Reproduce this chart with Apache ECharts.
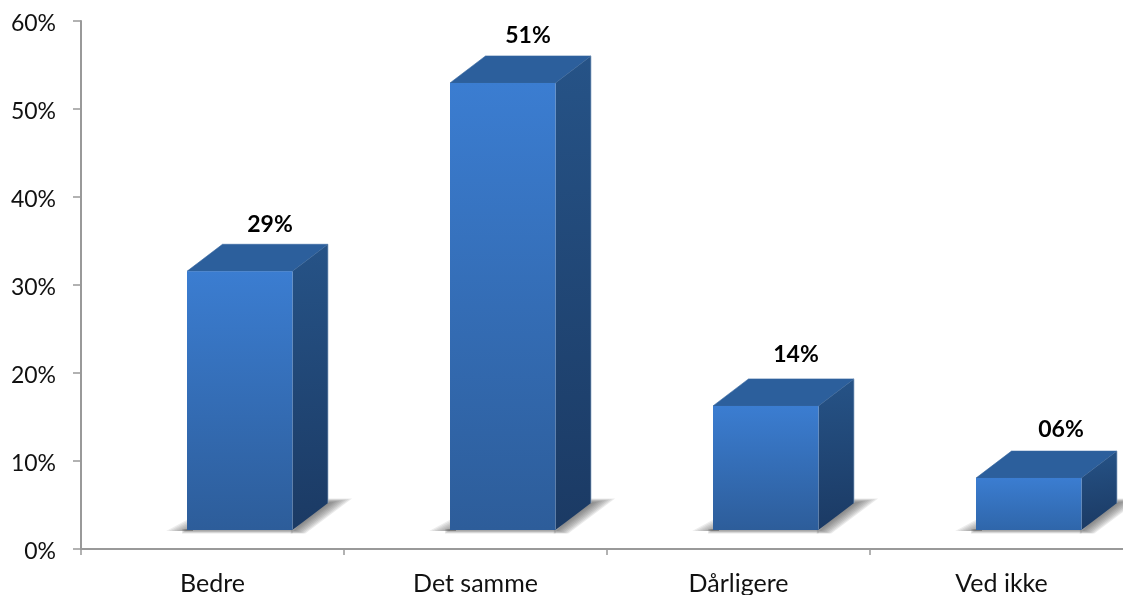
<!DOCTYPE html>
<html>
<head>
<meta charset="utf-8">
<style>html,body{margin:0;padding:0;background:#fff;overflow:hidden}#c{width:1123px;height:595px}</style>
<script src="https://cdn.jsdelivr.net/npm/echarts@6/dist/echarts.min.js"></script>
</head>
<body>
<div id="c"></div>
<script>
var categories = ['Bedre', 'Det samme', 'Dårligere', 'Ved ikke'];
var barHeights = [29.4, 50.8, 14.1, 5.9];
var valueLabels = ['29%', '51%', '14%', '06%'];

var FONT = 'Lato, "Open Sans", sans-serif';
var labelDx = [83, 78, 83, 85];
var labelDy = [-20, -20, -24, -22];

function lin(x0, y0, x1, y1, c0, c1) {
  return new echarts.graphic.LinearGradient(x0, y0, x1, y1, [
    {offset: 0, color: c0}, {offset: 1, color: c1}
  ]);
}
function renderBar(params, api) {
  var i = api.value(0);
  var top = api.coord([i, api.value(1)]);
  var base = api.coord([i, 0]);
  var w = 105.5, dx = 35.5, dy = 27;
  var L = base[0] - 25.5;
  var R = L + w;
  var B = base[1] - 19;
  var T = top[1] - 19;
  var items = [];
  var k;
  for (k = 8; k >= 1; k--) {
    items.push({type: 'polygon', silent: true,
      shape: {points: [[L - k * 2.6, B + 1], [L + 6, B - k * 1.7], [L + 6, B + 1]]},
      style: {fill: 'rgba(90,90,90,0.11)'}});
    items.push({type: 'polygon', silent: true,
      shape: {points: [
        [R - 2, B + k * 0.45],
        [R + dx - 2, B - dy - k * 0.55],
        [R + dx + k * 3, B - dy - k * 0.55],
        [R + k * 1.6, B + k * 0.45]
      ]},
      style: {fill: 'rgba(85,85,85,0.12)'}});
  }
  for (k = 5; k >= 1; k--) {
    items.push({type: 'rect', silent: true,
      shape: {x: L - k, y: B - 1, width: w + k, height: 1 + k * 0.7},
      style: {fill: 'rgba(100,100,100,0.16)'}});
  }
  items.push({type: 'polygon', silent: true,
    shape: {points: [[L, T], [L + dx, T - dy], [R + dx, T - dy], [R, T]]},
    style: {fill: '#2C5F9C', stroke: '#35679F', lineWidth: 0.6}});
  items.push({type: 'polygon', silent: true,
    shape: {points: [[R, T], [R + dx, T - dy], [R + dx, B - dy], [R, B]]},
    style: {fill: lin(0, 0, 0.3, 1, '#265387', '#1B3A64')}});
  items.push({type: 'line', silent: true,
    shape: {x1: R + dx, y1: T - dy, x2: R + dx, y2: B - dy},
    style: {stroke: '#8FA9C6', lineWidth: 0.7}});
  items.push({type: 'rect', silent: true,
    shape: {x: L, y: T, width: w, height: B - T},
    style: {fill: lin(0, 0, 0, 1, '#3B7DD1', i === 3 ? '#2F66AA' : '#2D5D9A')}});
  items.push({type: 'text', silent: true,
    style: {text: valueLabels[i], x: L + labelDx[i], y: T - dy + labelDy[i],
      align: 'center', verticalAlign: 'middle',
      fill: '#000', font: 'bold 23px ' + FONT}});
  return {type: 'group', children: items};
}

var chart = echarts.init(document.getElementById('c'), null, {renderer: 'canvas'});
chart.setOption({
  animation: false,
  backgroundColor: '#fff',
  grid: {left: 81, top: 21, width: 1052, height: 528, containLabel: false, outerBoundsMode: 'none'},
  xAxis: {
    type: 'category', data: categories, boundaryGap: true,
    axisLine: {lineStyle: {color: '#999', width: 2}},
    axisTick: {show: true, alignWithLabel: false, length: 6, lineStyle: {color: '#999', width: 1.5}},
    axisLabel: {color: '#111', fontFamily: FONT, fontSize: 25, margin: 22, interval: 0}
  },
  yAxis: {
    type: 'value', min: 0, max: 60, interval: 10,
    axisLine: {show: true, lineStyle: {color: '#999', width: 2}},
    axisTick: {show: true, length: 8, lineStyle: {color: '#999', width: 1.5}},
    splitLine: {show: false},
    axisLabel: {color: '#111', fontFamily: FONT, fontSize: 23, margin: 25, verticalAlign: 'top', lineHeight: 6,
      formatter: function (v) { return v + '%'; }}
  },
  series: [{
    type: 'custom', clip: false, renderItem: renderBar,
    encode: {x: 0, y: 1},
    data: categories.map(function (c, i) { return [i, barHeights[i]]; })
  }]
});
</script>
</body>
</html>
